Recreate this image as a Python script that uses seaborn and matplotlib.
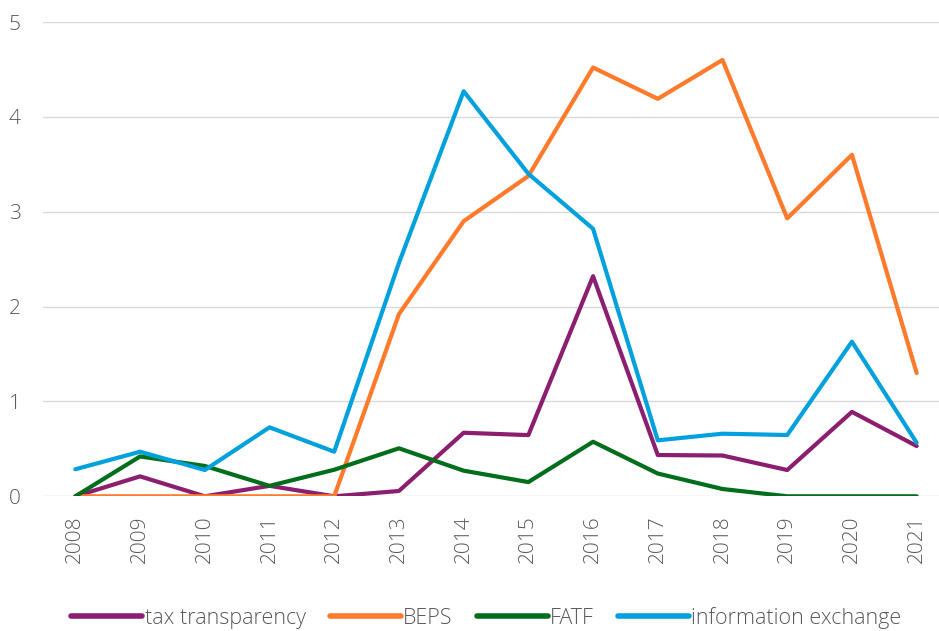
import matplotlib
matplotlib.use("Agg")
import matplotlib.pyplot as plt
import seaborn as sns
import pandas as pd

years = list(range(2008, 2022))
tax_transparency = [0, 0.21, 0, 0.11, 0, 0.056, 0.67, 0.645, 2.32, 0.435, 0.43, 0.277, 0.89, 0.53]
beps = [0, 0, 0, 0, 0, 1.92, 2.90, 3.376, 4.52, 4.19, 4.60, 2.93, 3.60, 1.30]
fatf = [0, 0.42, 0.32, 0.11, 0.28, 0.506, 0.27, 0.15, 0.575, 0.24, 0.077, 0, 0, 0]
info_exchange = [0.285, 0.47, 0.277, 0.727, 0.47, 2.46, 4.27, 3.40, 2.82, 0.59, 0.66, 0.646, 1.63, 0.565]

series_names = ["tax transparency", "BEPS", "FATF", "information exchange"]
colors = ["#8B1E6F", "#FF7A2A", "#006E1A", "#00A1DC"]

df = pd.concat([
    pd.DataFrame({"year": years, "value": vals, "series": name})
    for name, vals in zip(series_names, [tax_transparency, beps, fatf, info_exchange])
])

sns.set_theme(style="white")
plt.rcParams['font.family'] = ['Open Sans', 'DejaVu Sans']

fig = plt.figure(figsize=(9.39, 6.31), dpi=100)
W, H = 939, 631
ax = fig.add_axes([43 / W, (H - 496.3) / H, 906 / W, (496.3 - 22) / H])

sns.lineplot(data=df, x="year", y="value", hue="series", palette=colors,
             hue_order=series_names, linewidth=3, ax=ax, legend=False)

ax.set_xlim(2007.5, 2021.5)
ax.set_ylim(0, 5)
ax.set_yticks([0, 1, 2, 3, 4, 5])
ax.set_xticks(years)
ax.set_xticklabels([str(y) for y in years], rotation=90)
ax.grid(axis="y", color="#d9d9d9", linewidth=1)
ax.set_axisbelow(True)
for s in ax.spines.values():
    s.set_visible(False)
ax.tick_params(axis="both", length=0, labelsize=15, labelcolor="#595959")
ax.tick_params(axis="x", pad=14)
ax.tick_params(axis="y", pad=16)
for lab in ax.get_xticklabels() + ax.get_yticklabels():
    lab.set_fontweight("light")
ax.set_xlabel("")
ax.set_ylabel("")

from matplotlib.lines import Line2D
handles = [Line2D([0], [0], color=c, lw=4, solid_capstyle="round") for c in colors]
leg = fig.legend(handles, series_names, loc="center", bbox_to_anchor=(0.518, 13 / H),
                 ncol=4, frameon=False, fontsize=15.5, handlelength=3.3,
                 handletextpad=0.12, columnspacing=1.1, borderaxespad=0)
for t in leg.get_texts():
    t.set_color("#595959")
    t.set_fontweight("light")

fig.savefig("out.png", dpi=100)
